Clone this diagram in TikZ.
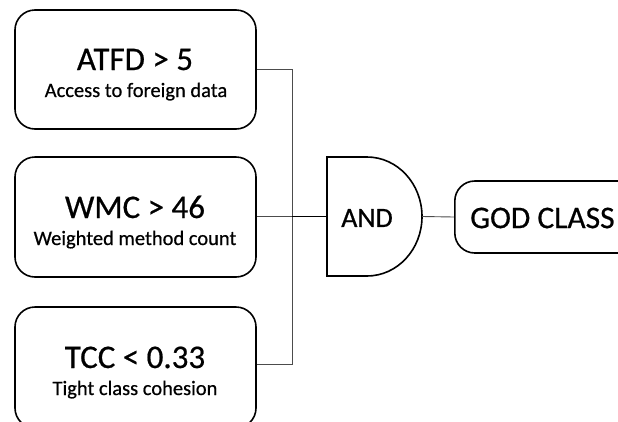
\documentclass[tikz,border=0pt]{standalone}
\usepackage{fontspec}
\setmainfont[FakeBold=0.6,BoldFont=Carlito]{Carlito}
\begin{document}
\begin{tikzpicture}[x=1pt,y=-1pt,
  metricbox/.style={draw=black,line width=1.6pt,rounded corners=20pt,inner sep=0pt},
  titletext/.style={font=\fontsize{33}{33}\selectfont,anchor=base,inner sep=0pt},
  subtext/.style={font=\fontsize{20.5}{20.5}\selectfont,anchor=base,inner sep=0pt},
  wire/.style={draw=black!70,line width=0.9pt},
  thickwire/.style={draw=black,line width=1.6pt}]
\useasboundingbox (0,0) rectangle (618,421);
\clip (0,0) rectangle (618,421);

% metric boxes
\node[metricbox,minimum width=241pt,minimum height=119pt] (atfd) at (135.5,69.5) {};
\node[metricbox,minimum width=241pt,minimum height=120pt] (wmc) at (135.5,217) {};
\node[metricbox,minimum width=241pt,minimum height=121pt] (tcc) at (135.5,367.5) {};

\node[titletext] (atfdT) at (135,70) {ATFD > 5};
\node[subtext] (atfdS) at (136,97) {Access to foreign data};
\node[titletext] (wmcT) at (135,218) {WMC > 46};
\node[subtext] (wmcS) at (135,245) {Weighted method count};
\node[titletext] (tccT) at (135,368) {TCC < 0.33};
\node[subtext] (tccS) at (135,395) {Tight class cohesion};

% AND gate
\draw[line width=1.6pt] (327,157) -- (367,157)
  arc[start angle=-90,end angle=90,x radius=55,y radius=59.5]
  -- (327,276) -- cycle;
\coordinate (andin) at (327,216.5);
\coordinate (andout) at (422,216.5);
\node[font=\fontsize{28}{28}\selectfont,inner sep=0pt] (andT) at (367,218) {AND};

% result box
\node[metricbox,minimum width=200pt,minimum height=72pt,anchor=west] (god) at (454,217) {};
\node[font=\fontsize{31.5}{31.5}\selectfont,anchor=west,inner sep=0pt] (godT) at (470,218) {GOD CLASS};

% connectors
\coordinate (bus) at (292,216.5);
\draw[wire] (atfd.east |- 0,69) -| (bus);
\draw[wire] (tcc.east |- 0,364) -| (bus);
\draw[wire] (wmc.east |- 0,216.5) -- (bus);
\draw[thickwire] (bus) -- (andin);
\draw[wire] (andout) -- (god.west);
\end{tikzpicture}
\end{document}
